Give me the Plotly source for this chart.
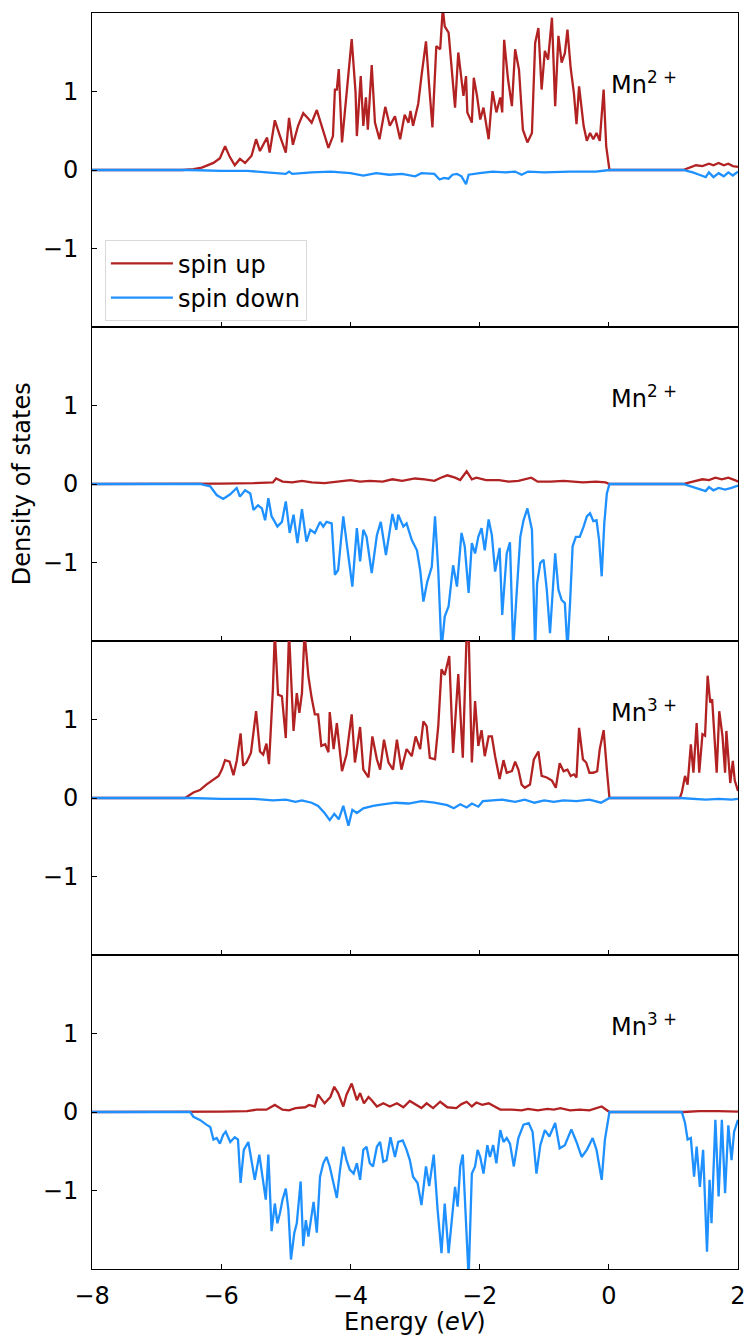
import plotly.graph_objects as go
from plotly.subplots import make_subplots

# ---- data: (energy eV, DOS) ----
up1 = [(-8.0, 0.0), (-6.6, 0.0), (-6.43, 0.01), (-6.3, 0.03), (-6.12, 0.09), (-6.02, 0.15), (-5.94, 0.30),
       (-5.87, 0.17), (-5.79, 0.06), (-5.71, 0.14), (-5.63, 0.09), (-5.53, 0.18), (-5.46, 0.39), (-5.40, 0.24),
       (-5.35, 0.32), (-5.29, 0.41), (-5.25, 0.22), (-5.17, 0.63), (-5.09, 0.43), (-5.00, 0.22), (-4.95, 0.66),
       (-4.89, 0.32), (-4.81, 0.56), (-4.73, 0.72), (-4.65, 0.65), (-4.60, 0.60), (-4.52, 0.76), (-4.45, 0.58),
       (-4.34, 0.28), (-4.27, 0.43), (-4.24, 1.02), (-4.21, 1.02), (-4.18, 1.28), (-4.13, 0.35), (-4.06, 0.94),
       (-3.98, 1.66), (-3.92, 0.98), (-3.90, 0.43), (-3.84, 1.19), (-3.80, 0.56), (-3.76, 0.92), (-3.73, 0.51),
       (-3.67, 1.33), (-3.62, 0.60), (-3.55, 0.39), (-3.46, 0.80), (-3.39, 0.56), (-3.31, 0.68), (-3.23, 0.39),
       (-3.16, 0.70), (-3.10, 0.60), (-3.07, 0.75), (-3.03, 0.56), (-2.95, 0.84), (-2.90, 1.19), (-2.83, 1.63),
       (-2.78, 1.06), (-2.73, 0.54), (-2.67, 1.57), (-2.61, 1.53), (-2.57, 2.05), (-2.54, 1.82), (-2.48, 1.74),
       (-2.38, 0.79), (-2.33, 1.49), (-2.25, 0.94), (-2.21, 1.19), (-2.19, 0.73), (-2.12, 0.60), (-2.09, 1.17),
       (-2.04, 0.94), (-1.99, 0.64), (-1.94, 0.79), (-1.86, 0.39), (-1.80, 1.00), (-1.74, 0.73), (-1.68, 0.92),
       (-1.65, 0.73), (-1.62, 1.65), (-1.56, 1.15), (-1.50, 0.81), (-1.45, 1.53), (-1.39, 1.27), (-1.33, 0.51),
       (-1.26, 0.35), (-1.19, 0.47), (-1.14, 1.61), (-1.09, 1.80), (-1.04, 1.02), (-0.99, 1.51), (-0.94, 1.40),
       (-0.88, 1.93), (-0.83, 0.81), (-0.78, 1.70), (-0.73, 1.36), (-0.68, 1.48), (-0.64, 1.78), (-0.59, 1.29),
       (-0.54, 0.97), (-0.50, 0.58), (-0.46, 1.06), (-0.39, 0.56), (-0.34, 0.37), (-0.29, 0.47), (-0.24, 0.39),
       (-0.19, 0.47), (-0.14, 0.37), (-0.08, 1.02), (-0.04, 0.30), (0.01, 0.0), (1.15, 0.0), (1.25, 0.03),
       (1.35, 0.06), (1.45, 0.05), (1.55, 0.08), (1.62, 0.06), (1.70, 0.09), (1.78, 0.06), (1.85, 0.08),
       (1.92, 0.05), (2.0, 0.04)]

down1 = [(-8.0, 0.0), (-6.5, 0.0), (-6.0, -0.01), (-5.6, -0.01), (-5.3, -0.03), (-5.0, -0.05), (-4.95, -0.02),
         (-4.9, -0.05), (-4.6, -0.03), (-4.3, -0.02), (-4.0, -0.04), (-3.8, -0.07), (-3.6, -0.04), (-3.4, -0.06),
         (-3.2, -0.05), (-3.0, -0.08), (-2.9, -0.04), (-2.7, -0.05), (-2.62, -0.12), (-2.55, -0.10), (-2.48, -0.11),
         (-2.42, -0.06), (-2.35, -0.05), (-2.28, -0.08), (-2.21, -0.18), (-2.17, -0.06), (-2.0, -0.04), (-1.8, -0.02),
         (-1.6, -0.03), (-1.45, -0.02), (-1.35, -0.06), (-1.25, -0.02), (-1.0, -0.03), (-0.6, -0.02), (-0.2, -0.02),
         (0.01, 0.0), (1.15, 0.0), (1.3, -0.03), (1.4, -0.06), (1.5, -0.09), (1.55, -0.03), (1.62, -0.09),
         (1.7, -0.04), (1.78, -0.08), (1.85, -0.03), (1.92, -0.07), (2.0, -0.02)]

up2 = [(-8.0, 0.0), (-6.4, 0.0), (-6.0, 0.005), (-5.5, 0.01), (-5.2, 0.02), (-5.15, 0.07), (-5.05, 0.03),
       (-4.9, 0.02), (-4.75, 0.04), (-4.6, 0.02), (-4.4, 0.01), (-4.2, 0.03), (-4.0, 0.05), (-3.85, 0.03),
       (-3.7, 0.04), (-3.5, 0.03), (-3.35, 0.06), (-3.2, 0.04), (-3.0, 0.07), (-2.85, 0.06), (-2.7, 0.04),
       (-2.6, 0.08), (-2.5, 0.11), (-2.38, 0.08), (-2.3, 0.05), (-2.2, 0.16), (-2.12, 0.06), (-2.05, 0.08),
       (-1.9, 0.05), (-1.7, 0.05), (-1.55, 0.03), (-1.4, 0.04), (-1.2, 0.08), (-1.1, 0.03), (-0.9, 0.03),
       (-0.7, 0.04), (-0.4, 0.02), (-0.2, 0.03), (-0.05, 0.02), (0.01, 0.0), (1.15, 0.0), (1.3, 0.03),
       (1.45, 0.06), (1.55, 0.05), (1.65, 0.08), (1.75, 0.06), (1.85, 0.08), (1.95, 0.05), (2.0, 0.03)]

down2 = [(-8.0, 0.0), (-6.33, 0.0), (-6.17, -0.03), (-6.07, -0.14), (-5.97, -0.19), (-5.86, -0.13), (-5.76, -0.05),
         (-5.71, -0.16), (-5.63, -0.08), (-5.55, -0.12), (-5.50, -0.33), (-5.43, -0.27), (-5.37, -0.31),
         (-5.32, -0.46), (-5.27, -0.18), (-5.22, -0.41), (-5.17, -0.48), (-5.13, -0.54), (-5.06, -0.48),
         (-5.00, -0.22), (-4.94, -0.62), (-4.88, -0.39), (-4.82, -0.75), (-4.75, -0.32), (-4.68, -0.73),
         (-4.62, -0.58), (-4.55, -0.62), (-4.47, -0.48), (-4.42, -0.54), (-4.37, -0.48), (-4.29, -0.50),
         (-4.24, -1.15), (-4.19, -1.09), (-4.11, -0.41), (-4.03, -0.92), (-3.97, -1.30), (-3.90, -0.56),
         (-3.85, -0.98), (-3.80, -0.58), (-3.75, -0.67), (-3.67, -1.13), (-3.59, -0.65), (-3.53, -0.48),
         (-3.45, -0.90), (-3.35, -0.38), (-3.29, -0.58), (-3.26, -0.39), (-3.18, -0.54), (-3.13, -0.50),
         (-3.05, -0.71), (-2.97, -0.84), (-2.92, -1.09), (-2.87, -1.49), (-2.81, -1.24), (-2.74, -1.05),
         (-2.69, -0.41), (-2.64, -1.09), (-2.59, -2.1), (-2.54, -1.68), (-2.48, -1.55), (-2.41, -1.03),
         (-2.35, -1.30), (-2.28, -0.62), (-2.23, -0.79), (-2.17, -1.38), (-2.12, -0.75), (-2.07, -0.88),
         (-2.02, -0.67), (-1.97, -0.56), (-1.92, -0.84), (-1.86, -0.45), (-1.81, -0.65), (-1.76, -1.11),
         (-1.69, -0.81), (-1.65, -1.66), (-1.58, -0.88), (-1.53, -0.74), (-1.48, -2.1), (-1.43, -1.43),
         (-1.37, -0.67), (-1.32, -0.46), (-1.26, -0.31), (-1.19, -0.58), (-1.14, -2.1), (-1.11, -1.26),
         (-1.06, -1.00), (-1.01, -0.96), (-0.96, -1.34), (-0.91, -1.89), (-0.83, -0.88), (-0.78, -1.34),
         (-0.73, -1.47), (-0.68, -1.51), (-0.64, -2.1), (-0.60, -1.51), (-0.56, -0.79), (-0.51, -0.67),
         (-0.45, -0.67), (-0.39, -0.54), (-0.34, -0.41), (-0.29, -0.37), (-0.24, -0.47), (-0.19, -0.46),
         (-0.15, -0.71), (-0.11, -1.17), (-0.07, -0.50), (-0.03, -0.12), (0.01, 0.0), (1.15, 0.0),
         (1.3, -0.04), (1.4, -0.06), (1.5, -0.09), (1.55, -0.04), (1.62, -0.08), (1.7, -0.05), (1.8, -0.07),
         (1.9, -0.05), (2.0, -0.02)]

up3 = [(-8.0, 0.0), (-6.56, 0.0), (-6.43, 0.07), (-6.33, 0.10), (-6.23, 0.17), (-6.12, 0.24), (-6.04, 0.28),
       (-5.99, 0.36), (-5.94, 0.48), (-5.87, 0.46), (-5.81, 0.29), (-5.76, 0.47), (-5.70, 0.82), (-5.66, 0.41),
       (-5.61, 0.45), (-5.54, 0.57), (-5.46, 1.10), (-5.40, 0.59), (-5.35, 0.55), (-5.30, 0.69), (-5.26, 0.43),
       (-5.20, 1.37), (-5.17, 2.1), (-5.12, 1.31), (-5.06, 1.29), (-5.00, 0.76), (-4.95, 2.1), (-4.88, 0.85),
       (-4.83, 1.33), (-4.79, 1.08), (-4.75, 1.33), (-4.71, 2.1), (-4.65, 1.54), (-4.60, 1.27), (-4.55, 1.06),
       (-4.50, 1.06), (-4.45, 0.66), (-4.39, 0.68), (-4.34, 0.58), (-4.32, 1.09), (-4.26, 0.62), (-4.21, 0.95),
       (-4.16, 0.57), (-4.13, 0.34), (-4.06, 0.55), (-3.98, 1.06), (-3.93, 0.45), (-3.85, 0.90), (-3.80, 0.36),
       (-3.72, 0.26), (-3.66, 0.78), (-3.59, 0.49), (-3.54, 0.36), (-3.48, 0.74), (-3.41, 0.45), (-3.34, 0.36),
       (-3.28, 0.74), (-3.21, 0.36), (-3.13, 0.62), (-3.05, 0.53), (-2.99, 0.78), (-2.92, 0.62), (-2.87, 0.97),
       (-2.82, 0.91), (-2.77, 0.51), (-2.69, 0.49), (-2.64, 0.91), (-2.59, 1.63), (-2.54, 1.56), (-2.47, 1.80),
       (-2.41, 0.57), (-2.33, 1.57), (-2.26, 0.51), (-2.20, 2.1), (-2.17, 2.1), (-2.12, 0.45), (-2.07, 1.23),
       (-2.02, 0.66), (-1.97, 0.86), (-1.92, 0.53), (-1.86, 0.78), (-1.81, 0.78), (-1.76, 0.53), (-1.69, 0.24),
       (-1.63, 0.48), (-1.58, 0.32), (-1.50, 0.34), (-1.45, 0.46), (-1.40, 0.36), (-1.35, 0.17), (-1.30, 0.13),
       (-1.22, 0.17), (-1.16, 0.49), (-1.09, 0.59), (-1.04, 0.28), (-0.96, 0.26), (-0.88, 0.22), (-0.82, 0.13),
       (-0.76, 0.44), (-0.70, 0.34), (-0.64, 0.36), (-0.59, 0.28), (-0.54, 0.30), (-0.50, 0.26), (-0.46, 0.89),
       (-0.40, 0.49), (-0.35, 0.45), (-0.30, 0.32), (-0.24, 0.32), (-0.18, 0.34), (-0.14, 0.62), (-0.08, 0.86),
       (-0.03, 0.36), (0.01, 0.0), (1.10, 0.0), (1.13, 0.07), (1.18, 0.28), (1.22, 0.17), (1.27, 0.68),
       (1.31, 0.32), (1.36, 0.95), (1.40, 0.32), (1.45, 0.81), (1.49, 0.79), (1.53, 1.55), (1.57, 1.21),
       (1.60, 1.25), (1.64, 0.70), (1.67, 0.32), (1.71, 1.10), (1.76, 0.78), (1.80, 0.32), (1.82, 0.85),
       (1.88, 0.19), (1.92, 0.47), (1.95, 0.22), (2.0, 0.09)]

down3 = [(-8.0, 0.0), (-6.5, 0.0), (-6.0, -0.01), (-5.5, -0.01), (-5.2, -0.03), (-5.0, -0.02), (-4.85, -0.05),
         (-4.75, -0.03), (-4.6, -0.06), (-4.5, -0.10), (-4.4, -0.19), (-4.32, -0.28), (-4.25, -0.20),
         (-4.18, -0.27), (-4.11, -0.10), (-4.03, -0.35), (-3.97, -0.15), (-3.9, -0.19), (-3.8, -0.13),
         (-3.65, -0.10), (-3.5, -0.08), (-3.3, -0.06), (-3.1, -0.07), (-2.9, -0.04), (-2.7, -0.06), (-2.5, -0.09),
         (-2.4, -0.13), (-2.3, -0.08), (-2.2, -0.12), (-2.12, -0.07), (-2.02, -0.11), (-1.95, -0.04),
         (-1.8, -0.03), (-1.65, -0.02), (-1.45, -0.05), (-1.3, -0.02), (-1.15, -0.06), (-1.0, -0.03),
         (-0.85, -0.05), (-0.7, -0.03), (-0.5, -0.04), (-0.3, -0.02), (-0.12, -0.06), (0.01, 0.0), (1.10, 0.0),
         (1.3, -0.01), (1.5, -0.02), (1.7, -0.01), (1.9, -0.02), (2.0, -0.01)]

up4 = [(-8.0, 0.0), (-6.5, 0.0), (-6.0, 0.005), (-5.6, 0.01), (-5.45, 0.03), (-5.3, 0.03), (-5.17, 0.09),
       (-5.05, 0.03), (-4.95, 0.02), (-4.85, 0.05), (-4.7, 0.06), (-4.64, 0.09), (-4.55, 0.07), (-4.50, 0.22),
       (-4.40, 0.11), (-4.31, 0.19), (-4.25, 0.32), (-4.19, 0.24), (-4.11, 0.07), (-4.06, 0.22), (-3.98, 0.36),
       (-3.90, 0.15), (-3.85, 0.24), (-3.79, 0.11), (-3.72, 0.19), (-3.67, 0.15), (-3.59, 0.07), (-3.49, 0.11),
       (-3.39, 0.07), (-3.28, 0.11), (-3.18, 0.06), (-3.08, 0.14), (-3.0, 0.10), (-2.9, 0.05), (-2.82, 0.11),
       (-2.72, 0.05), (-2.61, 0.13), (-2.5, 0.06), (-2.36, 0.05), (-2.28, 0.10), (-2.20, 0.13), (-2.12, 0.07),
       (-2.05, 0.12), (-1.96, 0.09), (-1.86, 0.11), (-1.78, 0.07), (-1.68, 0.03), (-1.5, 0.03), (-1.35, 0.02),
       (-1.25, 0.04), (-1.1, 0.02), (-0.95, 0.04), (-0.85, 0.03), (-0.75, 0.05), (-0.6, 0.02), (-0.45, 0.03),
       (-0.3, 0.02), (-0.11, 0.07), (0.01, 0.0), (1.15, 0.0), (1.4, 0.01), (1.7, 0.01), (2.0, 0.005)]

down4 = [(-8.0, 0.0), (-6.48, 0.0), (-6.43, -0.06), (-6.33, -0.10), (-6.23, -0.16), (-6.17, -0.19), (-6.12, -0.35),
         (-6.07, -0.33), (-6.02, -0.40), (-5.97, -0.29), (-5.93, -0.25), (-5.86, -0.38), (-5.79, -0.32),
         (-5.74, -0.35), (-5.70, -0.90), (-5.65, -0.48), (-5.58, -0.38), (-5.53, -0.61), (-5.48, -0.86),
         (-5.41, -0.54), (-5.36, -0.82), (-5.31, -1.11), (-5.27, -0.54), (-5.22, -1.51), (-5.17, -1.16),
         (-5.13, -1.41), (-5.09, -1.28), (-5.05, -1.11), (-5.00, -0.97), (-4.96, -1.24), (-4.92, -1.87),
         (-4.87, -1.54), (-4.83, -1.41), (-4.77, -0.88), (-4.73, -1.70), (-4.69, -1.37), (-4.65, -1.58),
         (-4.57, -1.14), (-4.52, -1.53), (-4.47, -0.82), (-4.42, -0.65), (-4.37, -0.57), (-4.32, -0.69),
         (-4.26, -0.90), (-4.21, -1.09), (-4.16, -0.73), (-4.11, -0.44), (-4.06, -0.61), (-4.01, -0.73),
         (-3.95, -0.78), (-3.90, -0.65), (-3.85, -0.86), (-3.80, -0.48), (-3.75, -0.44), (-3.70, -0.65),
         (-3.65, -0.69), (-3.59, -0.44), (-3.54, -0.38), (-3.49, -0.63), (-3.44, -0.61), (-3.38, -0.32),
         (-3.31, -0.57), (-3.26, -0.38), (-3.19, -0.36), (-3.13, -0.48), (-3.08, -0.61), (-3.03, -0.82),
         (-2.96, -0.90), (-2.90, -1.18), (-2.83, -0.69), (-2.78, -0.94), (-2.71, -0.54), (-2.65, -1.24),
         (-2.59, -1.79), (-2.54, -1.16), (-2.48, -1.79), (-2.43, -1.32), (-2.38, -0.95), (-2.34, -1.20),
         (-2.30, -0.69), (-2.26, -0.54), (-2.21, -1.41), (-2.17, -2.1), (-2.12, -0.78), (-2.07, -0.69),
         (-2.03, -0.48), (-1.99, -0.57), (-1.94, -0.78), (-1.88, -0.42), (-1.84, -0.57), (-1.79, -0.42),
         (-1.74, -0.65), (-1.68, -0.23), (-1.63, -0.38), (-1.58, -0.33), (-1.53, -0.40), (-1.47, -0.69),
         (-1.40, -0.33), (-1.32, -0.16), (-1.24, -0.14), (-1.18, -0.25), (-1.12, -0.78), (-1.06, -0.42),
         (-0.99, -0.23), (-0.92, -0.31), (-0.83, -0.14), (-0.76, -0.46), (-0.68, -0.42), (-0.58, -0.22),
         (-0.50, -0.38), (-0.42, -0.57), (-0.34, -0.48), (-0.25, -0.33), (-0.19, -0.48), (-0.11, -0.86),
         (-0.06, -0.35), (0.01, 0.0), (1.13, 0.0), (1.18, -0.14), (1.22, -0.35), (1.27, -0.33), (1.32, -0.82),
         (1.36, -0.44), (1.41, -0.95), (1.46, -0.48), (1.52, -1.77), (1.56, -0.86), (1.59, -1.41), (1.65, -0.10),
         (1.70, -1.07), (1.75, -0.10), (1.80, -1.03), (1.85, -0.17), (1.90, -0.61), (1.94, -0.25), (2.0, -0.10)]

panel_labels = ["Mn<sup>2 +</sup>", "Mn<sup>2 +</sup>", "Mn<sup>3 +</sup>", "Mn<sup>3 +</sup>"]
series_names = ["spin up", "spin down"]
x_ticks = [-8, -6, -4, -2, 0, 2]
y_ticks = [-1, 0, 1]

UP_COLOR = "#B22222"
DOWN_COLOR = "#1E90FF"
FONT = "DejaVu Sans"
FS = 24
LW = 2.3

fig = make_subplots(rows=4, cols=1, shared_xaxes=True, vertical_spacing=0)

panels = [(up1, down1), (up2, down2), (up3, down3), (up4, down4)]
for i, (up, down) in enumerate(panels):
    r = i + 1
    ux, uy = zip(*up)
    dx, dy = zip(*down)
    fig.add_trace(go.Scatter(x=ux, y=uy, mode="lines", name=series_names[0],
                             line=dict(color=UP_COLOR, width=LW), showlegend=(i == 0)), row=r, col=1)
    fig.add_trace(go.Scatter(x=dx, y=dy, mode="lines", name=series_names[1],
                             line=dict(color=DOWN_COLOR, width=LW), showlegend=(i == 0)), row=r, col=1)
    sfx = "" if r == 1 else str(r)
    fig.add_annotation(x=0.0, y=1.1, xref=f"x{sfx}", yref=f"y{sfx}",
                       text=panel_labels[i], showarrow=False, xanchor="left", yanchor="middle",
                       font=dict(family=FONT, size=FS, color="black"))

for r in range(1, 5):
    fig.update_xaxes(range=[-8, 2], tickvals=x_ticks, ticks="inside", ticklen=5, tickwidth=1,
                     tickcolor="black", showline=True, linecolor="black", linewidth=1, mirror=True,
                     showgrid=False, zeroline=False, showticklabels=(r == 4), ticklabelstandoff=5,
                     automargin=False,
                     tickfont=dict(family=FONT, size=FS, color="black"), row=r, col=1)
    fig.update_yaxes(range=[-1.99, 1.99], tickvals=y_ticks, ticks="inside", ticklen=5, tickwidth=1,
                     tickcolor="black", showline=True, linecolor="black", linewidth=1, mirror=True,
                     showgrid=False, zeroline=False, ticklabelstandoff=8, automargin=False,
                     tickfont=dict(family=FONT, size=FS, color="black"), row=r, col=1)

fig.add_annotation(x=-0.108, y=0.625, xref="paper", yref="paper", text="Density of states",
                   textangle=-90, showarrow=False, xanchor="center", yanchor="middle",
                   font=dict(family=FONT, size=FS, color="black"))
fig.add_annotation(x=0.5, y=-0.042, xref="paper", yref="paper", text="Energy (<i>eV</i>)",
                   showarrow=False, xanchor="center", yanchor="middle",
                   font=dict(family=FONT, size=FS, color="black"))

fig.update_layout(
    width=748, height=1340,
    margin=dict(l=92, r=10, t=13, b=71),
    paper_bgcolor="white", plot_bgcolor="white",
    font=dict(family=FONT, size=FS, color="black"),
    legend=dict(x=0.02, y=0.819, xanchor="left", yanchor="top", bgcolor="rgba(255,255,255,0.8)",
                bordercolor="#d9d9d9", borderwidth=1, itemwidth=62, tracegroupgap=0,
                font=dict(family=FONT, size=FS, color="black")),
)

fig.write_html("out.html")
